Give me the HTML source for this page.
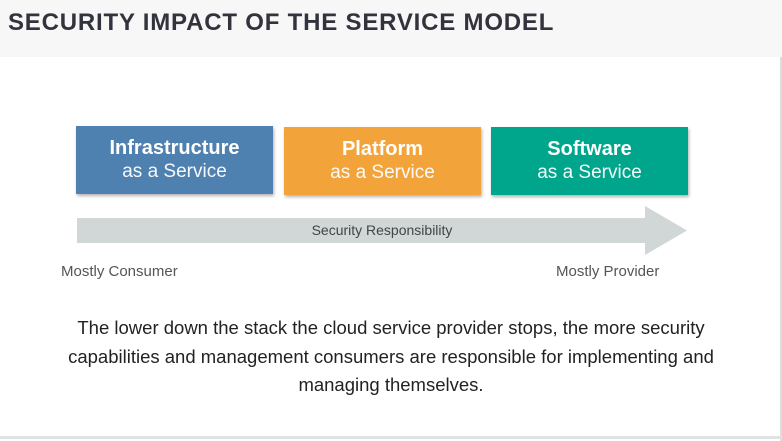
<!DOCTYPE html>
<html><head><style>
body{margin:0;width:782px;height:441px;background:#fff;position:relative;overflow:hidden;font-family:"Liberation Sans",sans-serif}
.hdr{position:absolute;left:0;top:0;width:782px;height:57px;background:#f7f7f7}
.hdr h1{position:absolute;left:8px;top:9px;margin:0;font-size:24px;font-weight:bold;color:#33333d;letter-spacing:0.8px}
.box{position:absolute;top:126px;width:197px;height:68px;color:#fff;text-align:center;box-shadow:1px 2px 3px rgba(0,0,0,.3)}
.box .a{font-size:20px;margin-top:10px;line-height:24px;font-weight:bold}
.box .b{font-size:19px;line-height:24px;opacity:.95}
.lbl{position:absolute;font-size:15px;color:#555}
.p{position:absolute;left:51px;width:680px;top:314px;text-align:center;font-size:18.5px;line-height:28.5px;color:#222}
.rb{position:absolute;right:0;top:57px;width:2px;height:384px;background:#ddd}
.bb{position:absolute;left:0;bottom:2px;width:782px;height:3px;background:#e2e2e2}
</style></head><body>
<div class="hdr"><h1>SECURITY IMPACT OF THE SERVICE MODEL</h1></div>
<div class="rb"></div><div class="bb"></div>
<div class="box" style="left:76px;background:#4f81b0"><div class="a">Infrastructure</div><div class="b">as a Service</div></div>
<div class="box" style="left:284px;top:127px;background:#f2a33a"><div class="a">Platform</div><div class="b">as a Service</div></div>
<div class="box" style="left:491px;top:127px;background:#00a68b"><div class="a">Software</div><div class="b">as a Service</div></div>
<svg style="position:absolute;left:0;top:0" width="782" height="441"><polygon points="77,218 645,218 645,206 687,230.5 645,255 645,243 77,243" fill="#d1d6d6"/>
<text x="382" y="235" text-anchor="middle" font-size="14" fill="#444" font-family="Liberation Sans">Security Responsibility</text></svg>
<div class="lbl" style="left:61px;top:263px">Mostly Consumer</div>
<div class="lbl" style="left:556px;top:263px">Mostly Provider</div>
<div class="p">The lower down the stack the cloud service provider stops, the more security capabilities and management consumers are responsible for implementing and managing themselves.</div>
</body></html>
